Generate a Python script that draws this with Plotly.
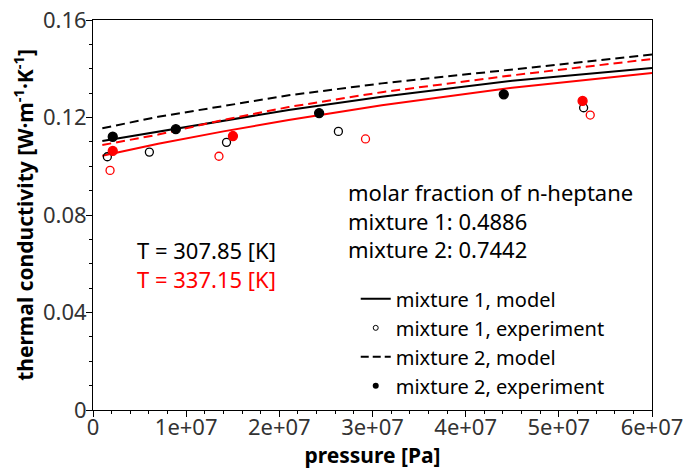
import plotly.graph_objects as go

FONT = "Noto Sans"

# model curves (pressure in Pa)
p_model = [1.0e6, 7.0e6, 1.4e7, 2.1e7, 3.1e7, 4.5e7, 6.0e7]
m1_T1_model = [0.1104, 0.1142, 0.1187, 0.1231, 0.1285, 0.1351, 0.1403]
m2_T1_model = [0.1156, 0.1203, 0.1247, 0.1291, 0.1340, 0.1398, 0.1458]
m1_T2_model = [0.1043, 0.1092, 0.1143, 0.1190, 0.1250, 0.1322, 0.1383]
m2_T2_model = [0.1087, 0.1130, 0.1190, 0.1243, 0.1304, 0.1373, 0.1440]

# experiments
m1_T1_p = [1.54e6, 6.05e6, 1.433e7, 2.634e7, 5.266e7]
m1_T1_k = [0.1039, 0.1058, 0.1098, 0.1143, 0.1240]
m1_T2_p = [1.83e6, 1.352e7, 2.925e7, 5.337e7]
m1_T2_k = [0.0983, 0.1041, 0.1112, 0.1210]
m2_T1_p = [2.12e6, 8.89e6, 2.427e7, 4.409e7]
m2_T1_k = [0.1121, 0.1152, 0.1218, 0.1295]
m2_T2_p = [2.12e6, 1.502e7, 5.255e7]
m2_T2_k = [0.1063, 0.1124, 0.1268]

x_tickvals = [0, 1e7, 2e7, 3e7, 4e7, 5e7, 6e7]
x_ticktext = ["0", "1e+07", "2e+07", "3e+07", "4e+07", "5e+07", "6e+07"]
y_tickvals = [0, 0.04, 0.08, 0.12, 0.16]
y_ticktext = ["0", "0.04", "0.08", "0.12", "0.16"]

legend_names = ["mixture 1, model", "mixture 1, experiment",
                "mixture 2, model", "mixture 2, experiment"]

DASH = "9px,5px"
fig = go.Figure()

def line(x, y, color, dash, group):
    fig.add_trace(go.Scatter(x=x, y=y, mode="lines", name=group, showlegend=False,
                             legendgroup=group,
                             line=dict(color=color, width=2, dash=dash)))

def pts(x, y, color, sym, group):
    fig.add_trace(go.Scatter(x=x, y=y, mode="markers", name=group, showlegend=False,
                             legendgroup=group,
                             marker=dict(color=color, size=9 if sym == "circle" else 8,
                                         symbol=sym, line=dict(color=color, width=1.3))))

line(p_model, m1_T1_model, "black", "solid", legend_names[0])
line(p_model, m2_T1_model, "black", DASH, legend_names[2])
line(p_model, m1_T2_model, "red", "solid", legend_names[0])
line(p_model, m2_T2_model, "red", DASH, legend_names[2])
pts(m1_T1_p, m1_T1_k, "black", "circle-open", legend_names[1])
pts(m2_T1_p, m2_T1_k, "black", "circle", legend_names[3])
pts(m1_T2_p, m1_T2_k, "red", "circle-open", legend_names[1])
pts(m2_T2_p, m2_T2_k, "red", "circle", legend_names[3])

# legend-only entries (small symbols as in the reference key)
leg_styles = [
    dict(mode="lines", line=dict(color="black", width=2)),
    dict(mode="markers", marker=dict(color="black", size=5, symbol="circle-open",
                                     line=dict(color="black", width=1))),
    dict(mode="lines", line=dict(color="black", width=2, dash="8px,4px")),
    dict(mode="markers", marker=dict(color="black", size=6, symbol="circle")),
]
for i, (nm, st) in enumerate(zip(legend_names, leg_styles)):
    fig.add_trace(go.Scatter(x=[None], y=[None], name=nm, showlegend=True,
                             legendgroup=nm, legendrank=i + 1, **st))

axis_common = dict(showline=True, linecolor="black", linewidth=1, mirror=True,
                   ticks="outside", ticklen=6, tickcolor="black", showgrid=False,
                   zeroline=False, automargin=False,
                   tickfont=dict(family=FONT, size=22, color="#333333"))

fig.update_xaxes(range=[0, 6e7], tickvals=x_tickvals, ticktext=x_ticktext,
                 ticklabelstandoff=-8,
                 minor=dict(dtick=2e6, ticks="outside", ticklen=3, tickcolor="black"),
                 title=dict(text="<b>pressure [Pa]</b>", font=dict(family=FONT, size=21, color="black"),
                            standoff=7),
                 **axis_common)
fig.update_yaxes(range=[0, 0.16], tickvals=y_tickvals, ticktext=y_ticktext,
                 ticklabelstandoff=-5,
                 minor=dict(dtick=0.01, ticks="outside", ticklen=3, tickcolor="black"),
                 title=dict(text="<b>thermal conductivity [W·m<sup>-1</sup>·K<sup>-1</sup>]</b>",
                            font=dict(family=FONT, size=21, color="black"), standoff=3),
                 **axis_common)

fig.add_annotation(xref="paper", yref="paper", x=0.452, y=0.602, xanchor="left", yanchor="top",
                   align="left", showarrow=False,
                   text="molar fraction of n-heptane<br>mixture 1: 0.4886<br>mixture 2: 0.7442",
                   font=dict(family=FONT, size=22, color="black"))
fig.add_annotation(xref="paper", yref="paper", x=0.076, y=0.455, xanchor="left", yanchor="top",
                   align="left", showarrow=False,
                   text="T = 307.85 [K]<br><span style='color:red'>T = 337.15 [K]</span>",
                   font=dict(family=FONT, size=22, color="black"))

fig.update_layout(
    width=686, height=472,
    margin=dict(l=93, r=34, t=20, b=62),
    paper_bgcolor="white", plot_bgcolor="white",
    font=dict(family=FONT, size=21, color="black"),
    legend=dict(x=0.47, y=0.335, xanchor="left", yanchor="top", bgcolor="rgba(0,0,0,0)",
                font=dict(family=FONT, size=20, color="black"), tracegroupgap=0,
                itemwidth=30),
)

fig.write_html("out.html")
